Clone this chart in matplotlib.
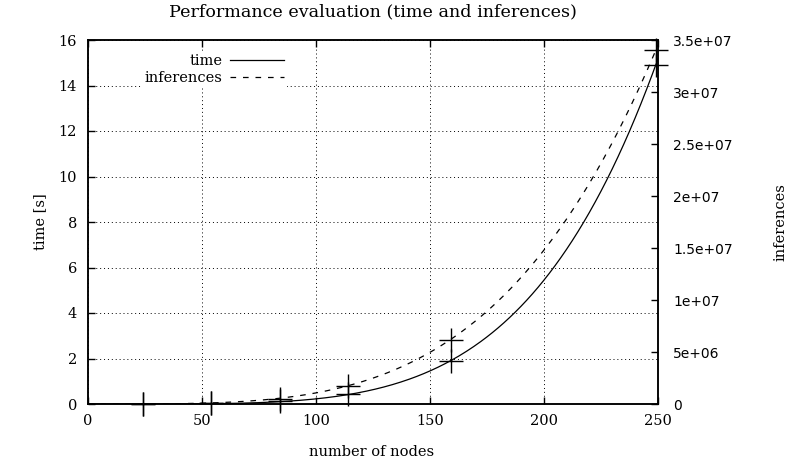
from matplotlib import pyplot as plt
import numpy as np

# data
nodes = [24, 54, 84, 114, 159, 249]
time_s = [0.002, 0.03, 0.15, 0.44, 1.90, 14.9]
inferences = [2e4, 1.2e5, 5e5, 1.7e6, 6.2e6, 3.40e7]

xticks = [0, 50, 100, 150, 200, 250]
yticks = [0, 2, 4, 6, 8, 10, 12, 14, 16]
y2ticks = [0, 5e6, 1e7, 1.5e7, 2e7, 2.5e7, 3e7, 3.5e7]
y2labels = ['0', '5e+06', '1e+07', '1.5e+07', '2e+07', '2.5e+07', '3e+07', '3.5e+07']


def power_fit(x, y):
    # fit y = a * x^k in log-log space, using the large points only
    x = np.asarray(x, float)
    y = np.asarray(y, float)
    keep = y > 0.1 * y.max()
    k, loga = np.polyfit(np.log(x[keep]), np.log(y[keep]), 1)
    return np.exp(loga), k


plt.rcParams['font.family'] = ['DejaVu Serif']
plt.rcParams['font.size'] = 10.5

fig = plt.figure(figsize=(7.91, 4.71), dpi=100)
ax = fig.add_axes([88 / 791, 1 - 404 / 471, (658 - 88) / 791, (404 - 40) / 471])
ax2 = ax.twinx()

xs = np.linspace(0, 250, 400)
a1, k1 = power_fit(nodes, time_s)
a2, k2 = power_fit(nodes, inferences)

l1, = ax.plot(xs, a1 * xs ** k1, color='black', lw=0.9, label='time')
ax.plot(nodes, time_s, ls='none', marker='+', ms=17, mew=1, color='black',
        clip_on=False)
l2, = ax2.plot(xs, a2 * xs ** k2, color='black', lw=0.9,
               dashes=(4.5, 5.5), label='inferences')
ax2.plot(nodes, inferences, ls='none', marker='+', ms=17, mew=1, color='black',
         clip_on=False)

ax.set_xlim(0, 250)
ax.set_ylim(0, 16)
ax2.set_ylim(0, 3.5e7)
ax.set_xticks(xticks)
ax.set_yticks(yticks)
ax2.set_yticks(y2ticks)
ax2.set_yticklabels(y2labels, family='DejaVu Sans', fontsize=10)

ax.grid(True, ls=(0, (1, 3)), color='black', lw=0.7)
ax.tick_params(direction='in', length=5, width=1, top=True, right=False, pad=8)
ax.tick_params(axis='x', pad=7)
ax2.tick_params(direction='in', length=5, width=1, pad=11)
for a in (ax, ax2):
    for s in a.spines.values():
        s.set_linewidth(1.1)

ax.set_title('Performance evaluation (time and inferences)', pad=17)
fig.text(372 / 791, 1 - 452 / 471, 'number of nodes', ha='center', va='center')
fig.text(40 / 791, 1 - 222 / 471, 'time [s]', rotation=90, ha='center', va='center')
fig.text(781 / 791, 1 - 222 / 471, 'inferences', rotation=90, ha='center', va='center')

leg = ax2.legend([l1, l2], ['time', 'inferences'], markerfirst=False,
                 loc='upper right', bbox_to_anchor=(294 / 791, 1 - 44 / 471),
                 bbox_transform=fig.transFigure, frameon=True, handlelength=3.7,
                 handletextpad=0.5, borderpad=0.2, labelspacing=0.2,
                 fancybox=False)
leg.get_frame().set_facecolor('white')
leg.get_frame().set_edgecolor('none')
leg.get_frame().set_alpha(1)

plt.savefig('out.png', dpi=100)
